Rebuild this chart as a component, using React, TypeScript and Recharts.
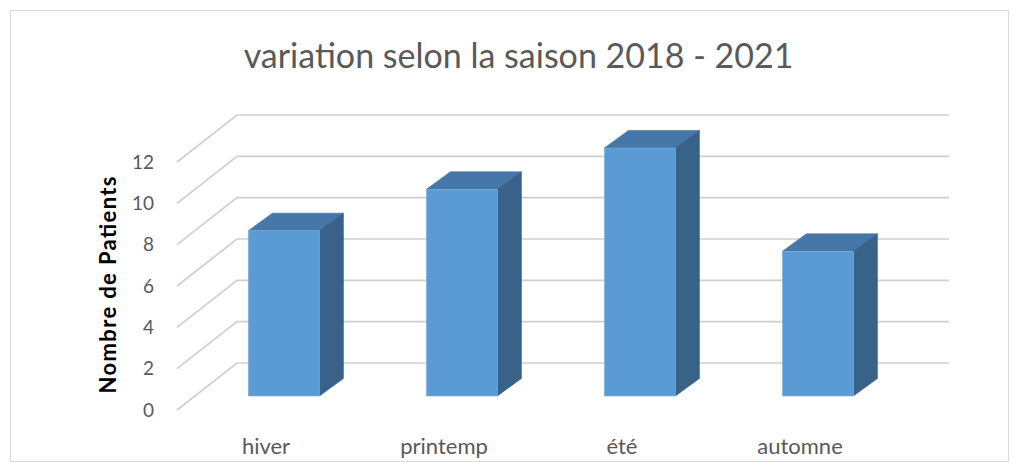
import { BarChart, Bar, XAxis, YAxis, CartesianGrid, Customized, Label } from 'recharts'

const SEASONS = ['hiver', 'printemp', 'été', 'automne']
const PATIENTS = [8, 10, 12, 7]
const Y_TICKS = [0, 2, 4, 6, 8, 10, 12]

const TITLE = 'variation selon la saison 2018 - 2021'
const Y_LABEL = 'Nombre de Patients'

const FONT = 'Lato, "Liberation Sans", sans-serif'

// oblique projection used for the fake 3d look
const WALL_DX = 60
const WALL_DY = -47
const FACE_DX = 18
const FACE_DY = -14
const DEPTH_DX = 24
const DEPTH_DY = -17.5

const data = SEASONS.map((s, i) => ({ season: s, patients: PATIENTS[i] }))

function GridLine(props: any) {
  const { x1, y1, x2 } = props
  const bx = x1 + WALL_DX
  const by = y1 + WALL_DY
  return (
    <path
      key={props.key ?? `g-${y1}`}
      d={`M${x1},${y1} L${bx},${by} L${x2 + WALL_DX},${by}`}
      fill="none"
      stroke="#cfcfcf"
      strokeWidth={1.7}
    />
  )
}

function Column(props: any) {
  const { x, y, width, height } = props
  const fx = x + FACE_DX
  const fy = y + FACE_DY
  const top = `${fx},${fy} ${fx + DEPTH_DX},${fy + DEPTH_DY} ${fx + width + DEPTH_DX},${fy + DEPTH_DY} ${fx + width},${fy}`
  const side = `${fx + width},${fy} ${fx + width + DEPTH_DX},${fy + DEPTH_DY} ${fx + width + DEPTH_DX},${fy + height + DEPTH_DY} ${fx + width},${fy + height}`
  return (
    <g>
      <polygon points={top} fill="#4577a9" stroke="#3f6e9c" strokeWidth={0.6} />
      <polygon points={side} fill="#386288" stroke="#345b80" strokeWidth={0.6} />
      <rect x={fx} y={fy} width={width} height={height} fill="#5b9bd5" stroke="#7aaedc" strokeWidth={0.6} />
    </g>
  )
}

function Title() {
  return (
    <text x={518.5} y={68} textAnchor="middle" fontFamily={FONT} fontSize={34} fill="#595959">
      {TITLE}
    </text>
  )
}

function AxisTitle() {
  const cy = 285
  return (
    <text
      x={116}
      y={cy}
      transform={`rotate(-90, 116, ${cy})`}
      textAnchor="middle"
      fontFamily={FONT}
      fontSize={22}
      fontWeight="bold"
      fill="#000"
      textLength={217}
      lengthAdjust="spacing"
    >
      {Y_LABEL}
    </text>
  )
}

export default function App() {
  return (
    <div style={{ position: 'absolute', left: 0, top: 0, width: 1020, height: 471, background: '#fff' }}>
      <div
        style={{
          position: 'absolute',
          left: 10,
          top: 10,
          width: 997,
          height: 450,
          border: '1px solid #d9d9d9',
        }}
      />
      <div style={{ position: 'absolute', left: 0, top: 0 }}>
        <BarChart
          width={1020}
          height={471}
          data={data}
          margin={{ top: 162, right: 131, bottom: 31, left: 117 }}
          barCategoryGap="30%"
        >
          <CartesianGrid vertical={false} horizontal={GridLine as any} />
          <XAxis
            dataKey="season"
            axisLine={false}
            tickLine={false}
            tickMargin={22}
            tick={{ fontFamily: FONT, fontSize: 22, fill: '#595959' }}
          />
          <YAxis
            width={60}
            domain={[0, 12]}
            ticks={Y_TICKS}
            axisLine={false}
            tickLine={false}
            tickSize={0}
            tickMargin={23}
            tick={{ fontFamily: FONT, fontSize: 19, fill: '#595959' }}
          >
            <Label content={AxisTitle} />
          </YAxis>
          <Bar dataKey="patients" shape={Column} isAnimationActive={false} />
          <Customized component={Title} />
        </BarChart>
      </div>
    </div>
  )
}
